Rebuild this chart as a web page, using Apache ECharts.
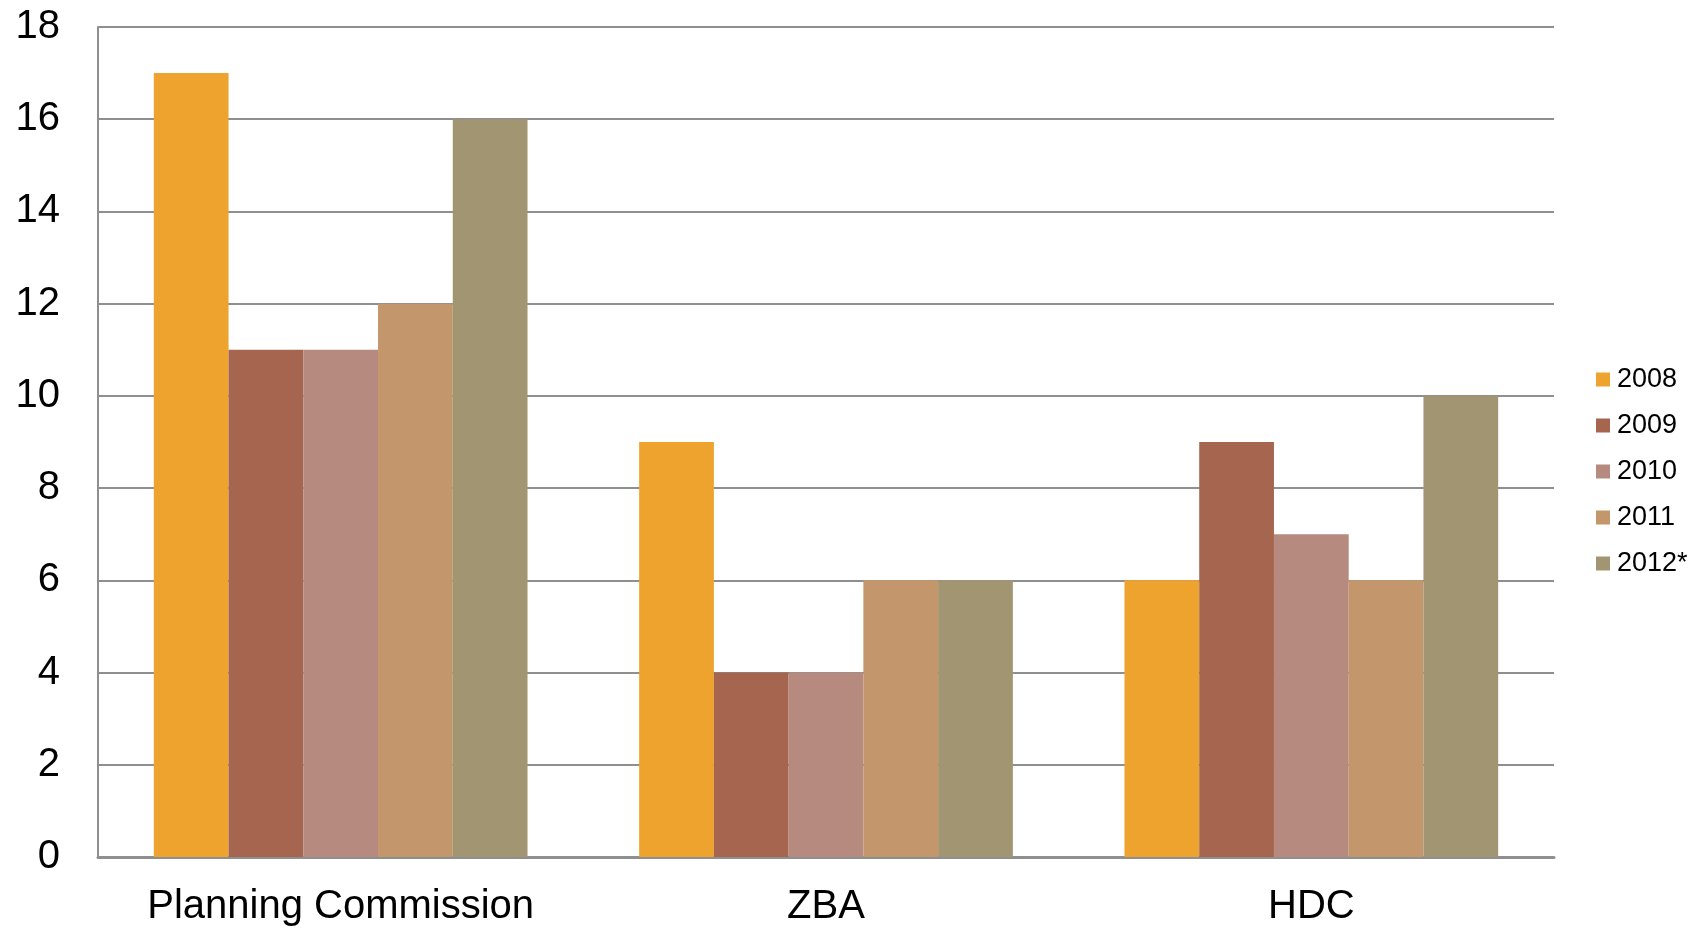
<!DOCTYPE html>
<html>
<head>
<meta charset="utf-8">
<script src="https://cdn.jsdelivr.net/npm/echarts@6/dist/echarts.min.js"></script>
<style>
  html, body { margin: 0; padding: 0; background: #ffffff; }
  #chart { width: 1707px; height: 932px; }
</style>
</head>
<body>
<div id="chart"></div>
<script>
// Boards and the yearly counts for each
const categories = ['Planning Commission', 'ZBA', 'HDC'];
const years = ['2008', '2009', '2010', '2011', '2012*'];
const values2008 = [17, 9, 6];
const values2009 = [11, 4, 9];
const values2010 = [11, 4, 7];
const values2011 = [12, 6, 6];
const values2012 = [16, 6, 10];
const yearColors = ['#EFA32F', '#A5654E', '#B68A7E', '#C3976B', '#A29572'];

const seriesValues = [values2008, values2009, values2010, values2011, values2012];
const font = "'Liberation Sans', Arial, sans-serif";

const chart = echarts.init(document.getElementById('chart'));
chart.setOption({
  animation: false,
  backgroundColor: '#ffffff',
  grid: { left: 98, right: 153, top: 27, bottom: 75, containLabel: false },
  legend: {
    orient: 'vertical',
    left: 1591,
    top: 361,
    itemWidth: 14,
    itemHeight: 14,
    itemGap: 19,
    icon: 'rect',
    textStyle: { fontFamily: font, fontSize: 27, color: '#000000', lineHeight: 27, padding: [0, 0, 0, 2] },
    data: years
  },
  xAxis: {
    type: 'category',
    data: categories,
    axisLine: { show: true, lineStyle: { color: '#8f8f8f', width: 3 } },
    axisTick: { show: false },
    axisLabel: { interval: 0, fontFamily: font, fontSize: 40, color: '#000000', margin: 30 }
  },
  yAxis: {
    type: 'value',
    min: 0,
    max: 18,
    interval: 2,
    axisLine: { show: true, lineStyle: { color: '#8f8f8f', width: 2 } },
    axisTick: { show: false },
    splitLine: { show: true, lineStyle: { color: '#8f8f8f', width: 2 } },
    axisLabel: { fontFamily: font, fontSize: 40, color: '#000000', margin: 38 }
  },
  series: years.map((y, i) => ({
    name: y,
    type: 'bar',
    data: seriesValues[i],
    barGap: '0%',
    barCategoryGap: '23%',
    itemStyle: { color: yearColors[i] }
  }))
});
</script>
</body>
</html>
